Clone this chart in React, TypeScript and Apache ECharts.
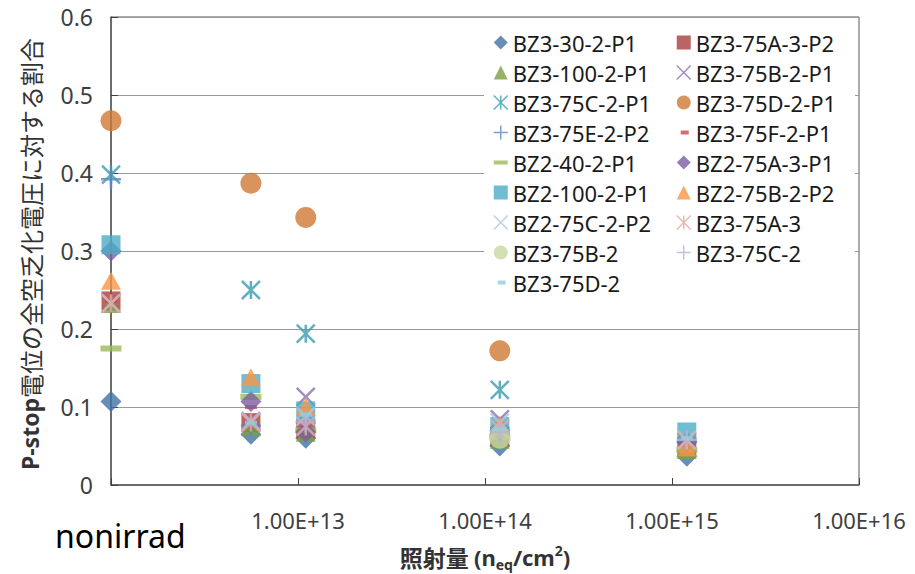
import React, { useEffect, useRef } from 'react';
import * as echarts from 'echarts';

// x positions: "nonirrad" is plotted at the left edge (1e12)
const fluence = [1e12, 5.6e12, 1.1e13, 1.2e14, 1.2e15];

const seriesNames = [
  'BZ3-30-2-P1', 'BZ3-75A-3-P2', 'BZ3-100-2-P1', 'BZ3-75B-2-P1', 'BZ3-75C-2-P1',
  'BZ3-75D-2-P1', 'BZ3-75E-2-P2', 'BZ3-75F-2-P1', 'BZ2-40-2-P1', 'BZ2-75A-3-P1',
  'BZ2-100-2-P1', 'BZ2-75B-2-P2', 'BZ2-75C-2-P2', 'BZ3-75A-3', 'BZ3-75B-2',
  'BZ3-75C-2', 'BZ3-75D-2',
];

const bz3_30_2_p1 = [0.107, 0.065, 0.060, 0.050, 0.037];
const bz3_75a_3_p2 = [0.236, 0.080, 0.072, 0.062, 0.050];
const bz3_100_2_p1 = [0.232, 0.074, 0.067, 0.058, 0.045];
const bz3_75b_2_p1 = [0.233, 0.082, 0.113, 0.084, 0.055];
const bz3_75c_2_p1 = [0.398, 0.250, 0.194, 0.122, null];
const bz3_75d_2_p1 = [0.467, 0.387, 0.343, 0.172, null];
const bz3_75e_2_p2 = [0.392, 0.076, 0.080, 0.065, 0.055];
const bz3_75f_2_p1 = [0.236, 0.100, 0.085, 0.070, 0.055];
const bz2_40_2_p1 = [0.175, 0.113, 0.070, 0.062, 0.045];
const bz2_75a_3_p1 = [0.300, 0.107, 0.068, 0.070, 0.055];
const bz2_100_2_p1 = [0.308, 0.130, 0.095, 0.075, 0.068];
const bz2_75b_2_p2 = [0.262, 0.138, 0.100, 0.078, 0.048];
const bz2_75c_2_p2 = [0.233, 0.082, 0.088, 0.080, 0.058];
const bz3_75a_3 = [0.233, 0.080, 0.075, 0.072, 0.057];
const bz3_75b_2 = [null, null, null, 0.060, null];
const bz3_75c_2 = [null, null, 0.081, 0.068, 0.058];
const bz3_75d_2 = [null, 0.080, 0.090, 0.072, 0.060];

const allValues = [
  bz3_30_2_p1, bz3_75a_3_p2, bz3_100_2_p1, bz3_75b_2_p1, bz3_75c_2_p1,
  bz3_75d_2_p1, bz3_75e_2_p2, bz3_75f_2_p1, bz2_40_2_p1, bz2_75a_3_p1,
  bz2_100_2_p1, bz2_75b_2_p2, bz2_75c_2_p2, bz3_75a_3, bz3_75b_2,
  bz3_75c_2, bz3_75d_2,
];

const yTicks = [0, 0.1, 0.2, 0.3, 0.4, 0.5, 0.6];

// marker styles
const kinds = [
  'diamond', 'square', 'triangle', 'x', 'star',
  'circle', 'plus', 'dash', 'longdash', 'diamond',
  'square', 'triangle', 'x', 'star', 'circle',
  'plus', 'dash',
];
const colors = [
  '#4170A8', '#A83E3C', '#7E9E43', '#8A72AE', '#3A9CB2',
  '#CF7834', '#5A88C2', '#C84C4A', '#9BBB59', '#7B5EA0',
  '#4BACC6', '#F79646', '#AFC4E0', '#DDAAA8', '#C6D8A2',
  '#BCAED2', '#93CDDD',
];

const X_PATH = 'path://M0,0L10,10M10,0L0,10';
const STAR_PATH = 'path://M0,0L10,10M10,0L0,10M5,0L5,10';
const PLUS_PATH = 'path://M5,0L5,10M0,5L10,5';
const LEG_LONGDASH = 'path://M0,0L0,0M14,14L14,14M0,5L14,5L14,9L0,9Z';
const LEG_DASH = 'path://M0,0L0,0M14,14L14,14M4,5L12,5L12,9L4,9Z';

const FONT = '"Noto Sans", "Noto Sans CJK JP", sans-serif';
const CJK = '"Noto Sans CJK JP", "Noto Sans", sans-serif';

function plotSymbol(kind: string, color: string) {
  switch (kind) {
    case 'diamond': return { symbol: 'diamond', symbolSize: 21, itemStyle: { color } };
    case 'square': return { symbol: 'rect', symbolSize: 19, itemStyle: { color } };
    case 'triangle': return { symbol: 'triangle', symbolSize: [20, 18], itemStyle: { color } };
    case 'circle': return { symbol: 'circle', symbolSize: 21, itemStyle: { color } };
    case 'x': return { symbol: X_PATH, symbolSize: 18, itemStyle: { color: 'transparent', borderColor: color, borderWidth: 2.5 } };
    case 'star': return { symbol: STAR_PATH, symbolSize: 18, itemStyle: { color: 'transparent', borderColor: color, borderWidth: 2.5 } };
    case 'plus': return { symbol: PLUS_PATH, symbolSize: 20, itemStyle: { color: 'transparent', borderColor: color, borderWidth: 2.5 } };
    case 'dash': return { symbol: 'rect', symbolSize: [12, 4], itemStyle: { color } };
    default: return { symbol: 'rect', symbolSize: [21, 6], itemStyle: { color } };
  }
}

function legendItem(i: number) {
  const kind = kinds[i];
  const color = colors[i];
  const name = seriesNames[i];
  switch (kind) {
    case 'diamond': return { name, icon: 'diamond', itemStyle: { color, borderWidth: 0 } };
    case 'square': return { name, icon: 'rect', itemStyle: { color, borderWidth: 0 } };
    case 'triangle': return { name, icon: 'triangle', itemStyle: { color, borderWidth: 0 } };
    case 'circle': return { name, icon: 'circle', itemStyle: { color, borderWidth: 0 } };
    case 'x': return { name, icon: X_PATH, itemStyle: { color: 'transparent', borderColor: color, borderWidth: 1.5 } };
    case 'star': return { name, icon: STAR_PATH, itemStyle: { color: 'transparent', borderColor: color, borderWidth: 1.5 } };
    case 'plus': return { name, icon: PLUS_PATH, itemStyle: { color: 'transparent', borderColor: color, borderWidth: 1.5 } };
    case 'dash': return { name, icon: LEG_DASH, itemStyle: { color, borderWidth: 0 } };
    default: return { name, icon: LEG_LONGDASH, itemStyle: { color, borderWidth: 0 } };
  }
}

export default function App() {
  const ref = useRef<HTMLDivElement>(null);
  useEffect(() => {
    if (!ref.current) return;
    const chart = echarts.init(ref.current, null, { renderer: 'svg' });

    const series = allValues.map((vals, i) => {
      const sym = plotSymbol(kinds[i], colors[i]);
      return {
        type: 'scatter',
        name: seriesNames[i],
        symbolKeepAspect: true,
        ...sym,
        data: fluence
          .map((x, j) => (vals[j] == null ? null : [x, vals[j]]))
          .filter((d) => d !== null),
        emphasis: { disabled: true },
      };
    });

    const leftIdx = seriesNames.map((_, i) => i).filter((i) => i % 2 === 0);
    const rightIdx = seriesNames.map((_, i) => i).filter((i) => i % 2 === 1);

    const legendCommon = {
      orient: 'vertical',
      top: 31,
      padding: 0,
      itemWidth: 14,
      itemHeight: 14,
      itemGap: 7,
      selectedMode: false,
      textStyle: { fontSize: 22, color: '#1a1a1a', fontFamily: FONT, lineHeight: 23 },
    };

    chart.setOption({
      animation: false,
      backgroundColor: '#ffffff',
      grid: {
        left: 111, right: 56, top: 17, bottom: 89,
        show: true, borderColor: '#595959', borderWidth: 1, backgroundColor: 'transparent',
      },
      xAxis: {
        type: 'log',
        logBase: 10,
        min: 1e12,
        max: 1e16,
        axisLine: { show: true, lineStyle: { color: '#595959', width: 1.5 } },
        axisTick: { show: true, inside: true, length: 7, lineStyle: { color: '#404040' } },
        splitLine: { show: false },
        minorTick: { show: false },
        axisLabel: {
          margin: 24,
          fontSize: 22,
          color: '#404040',
          fontFamily: FONT,
          showMaxLabel: true,
          formatter: (v: number) => {
            const e = Math.round(Math.log10(v));
            return e <= 12 ? '' : '1.00E+' + e;
          },
        },
      },
      yAxis: {
        type: 'value',
        min: yTicks[0],
        max: yTicks[yTicks.length - 1],
        interval: 0.1,
        axisLine: { show: true, lineStyle: { color: '#595959', width: 1.5 } },
        axisTick: { show: true, inside: true, length: 7, lineStyle: { color: '#404040' } },
        splitLine: { show: true, lineStyle: { color: '#999999', width: 1 } },
        axisLabel: {
          margin: 18,
          fontSize: 23,
          color: '#404040',
          fontFamily: FONT,
          formatter: (v: number) => String(Math.round(v * 10) / 10),
        },
      },
      legend: [
        { ...legendCommon, left: 493, data: leftIdx.map(legendItem) },
        { ...legendCommon, left: 676, data: rightIdx.map(legendItem) },
      ],
      graphic: [
        {
          type: 'rect',
          z: 3,
          shape: { x: 484, y: 26, width: 371, height: 272 },
          style: { fill: '#ffffff' },
        },
        {
          type: 'text',
          x: 55,
          y: 535,
          style: {
            text: 'nonirrad',
            fontSize: 32,
            fontFamily: FONT,
            fill: '#000000',
            align: 'left',
            verticalAlign: 'middle',
          },
        },
        {
          type: 'text',
          x: 485,
          y: 557,
          style: {
            text: '{a|照射量 }{b|(n}{s|eq}{b|/cm}{p|2}{b|)}',
            align: 'center',
            verticalAlign: 'middle',
            fill: '#333333',
            rich: {
              a: { fontSize: 23, fontFamily: CJK, fontWeight: 'bold', fill: '#333333', lineHeight: 28, verticalAlign: 'middle' },
              b: { fontSize: 22, fontFamily: FONT, fontWeight: 'bold', fill: '#333333', lineHeight: 28, verticalAlign: 'middle' },
              s: { fontSize: 14, fontFamily: FONT, fontWeight: 'bold', fill: '#333333', lineHeight: 16, verticalAlign: 'bottom' },
              p: { fontSize: 14, fontFamily: FONT, fontWeight: 'bold', fill: '#333333', lineHeight: 16, verticalAlign: 'top' },
            },
          },
        },
        {
          type: 'text',
          x: 30,
          y: 254,
          rotation: Math.PI / 2,
          style: {
            text: '{b|P-stop}{a|電位の全空乏化電圧に対する割合}',
            align: 'center',
            verticalAlign: 'middle',
            fill: '#333333',
            rich: {
              b: { fontSize: 23, fontFamily: FONT, fontWeight: 'bold', fill: '#333333' },
              a: { fontSize: 24, fontFamily: CJK, fontWeight: 'normal', fill: '#333333' },
            },
          },
        },
      ],
      series,
    });

    return () => chart.dispose();
  }, []);

  return (
    <div
      ref={ref}
      style={{ position: 'absolute', left: 0, top: 0, width: 915, height: 574, background: '#fff' }}
    />
  );
}
